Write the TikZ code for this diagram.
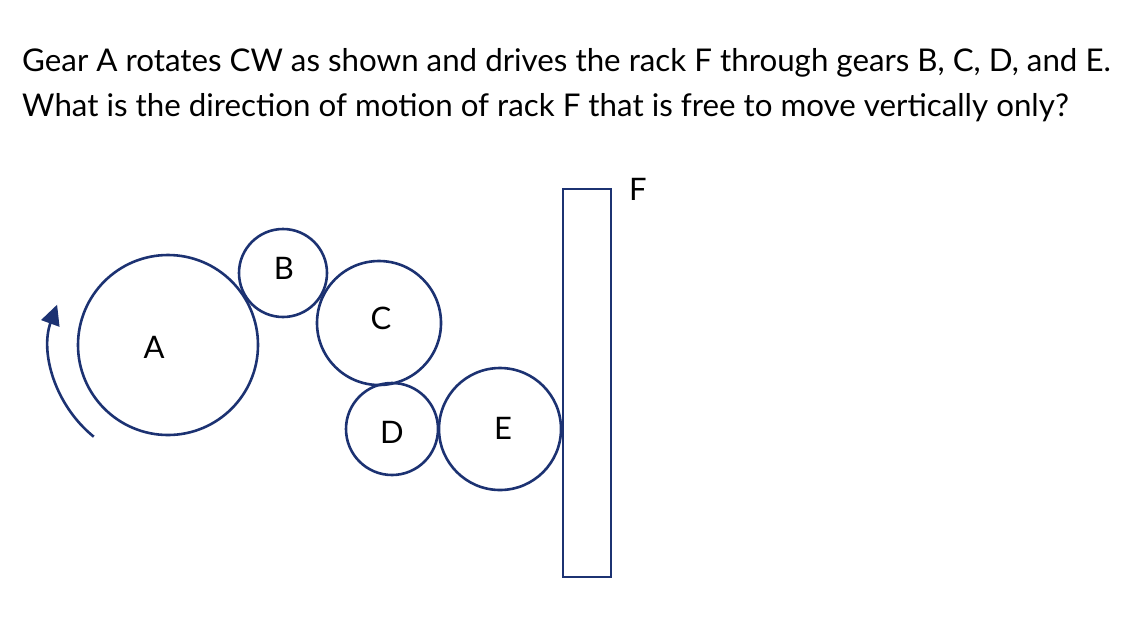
\documentclass[tikz,border=0pt]{standalone}
\usepackage{fontspec}
\setmainfont{Lato}
\usetikzlibrary{arrows.meta}
\definecolor{navy}{HTML}{1C3272}
\begin{document}
\begin{tikzpicture}[x=1pt,y=-1pt,
  gear/.style={draw=navy,line width=2.6pt,circle,inner sep=0pt},
  lbl/.style={font=\fontsize{31}{34}\selectfont},
  txt/.style={anchor=base west,inner sep=0pt,font=\fontsize{31.3}{34}\selectfont}]
\useasboundingbox (0,0) rectangle (1142,622);
\node[txt] (t1) at (22,71) {Gear A rotates CW as shown and drives the rack F through gears B, C, D, and E.};
\node[txt] (t2) at (22,116) {What is the direction of motion of rack F that is free to move vertically only?};
\node[gear,minimum size=180pt] (A) at (168,345) {};
\node[gear,minimum size=88pt] (B) at (283,273) {};
\node[gear,minimum size=124pt] (C) at (379,323) {};
\node[gear,minimum size=92pt] (D) at (392,429) {};
\node[gear,minimum size=122pt] (E) at (500,429) {};
\node[lbl] (la) at (154,347) {A};
\node[lbl] (lb) at (284,268) {B};
\node[lbl] (lc) at (381,318) {C};
\node[lbl] (ld) at (392,432) {D};
\node[lbl] (le) at (503,428) {E};
\node[draw=navy,line width=2.6pt,minimum width=48pt,minimum height=388pt,inner sep=0pt] (F) at (587,383) {};
\node[lbl] (lf) at (638,189) {F};
\draw[navy,line width=2.6pt,-{Triangle[length=20pt,width=19pt]}] ([shift={(231:118pt)}]A.center) arc[start angle=231,end angle=160,radius=118pt];
\end{tikzpicture}
\end{document}
